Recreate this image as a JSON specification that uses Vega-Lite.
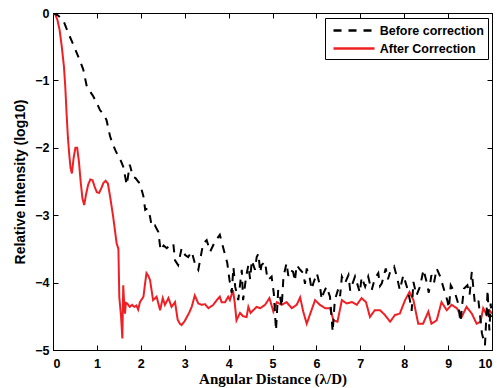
{
  "$schema": "https://vega.github.io/schema/vega-lite/v6.json",
  "autosize": "none",
  "width": 439,
  "height": 337,
  "padding": {"left": 53, "top": 13, "right": 5, "bottom": 38},
  "background": "white",
  "config": {
    "view": {"stroke": "black", "strokeWidth": 1},
    "axis": {
      "domainColor": "black", "tickColor": "black", "labelColor": "black", "titleColor": "black",
      "grid": false, "labelFont": "Liberation Sans", "labelFontWeight": "bold", "labelFontSize": 12.5,
      "tickSize": -5, "tickWidth": 1
    },
    "legend": {
      "labelFont": "Liberation Sans", "labelFontWeight": "bold", "labelFontSize": 12.5, "labelColor": "black"
    }
  },
  "data": {"values": [
    {"x":0,"y":0,"s":"After Correction"},{"x":0.05,"y":-0.02,"s":"After Correction"},{"x":0.1,"y":-0.1,"s":"After Correction"},{"x":0.15,"y":-0.25,"s":"After Correction"},{"x":0.2,"y":-0.5,"s":"After Correction"},{"x":0.25,"y":-0.8,"s":"After Correction"},{"x":0.28,"y":-1.1,"s":"After Correction"},{"x":0.31,"y":-1.5,"s":"After Correction"},{"x":0.34,"y":-1.85,"s":"After Correction"},{"x":0.37,"y":-2.1,"s":"After Correction"},{"x":0.4,"y":-2.3,"s":"After Correction"},{"x":0.43,"y":-2.38,"s":"After Correction"},{"x":0.47,"y":-2.15,"s":"After Correction"},{"x":0.51,"y":-2.0,"s":"After Correction"},{"x":0.55,"y":-2.0,"s":"After Correction"},{"x":0.59,"y":-2.2,"s":"After Correction"},{"x":0.63,"y":-2.5,"s":"After Correction"},{"x":0.67,"y":-2.75,"s":"After Correction"},{"x":0.71,"y":-2.85,"s":"After Correction"},{"x":0.75,"y":-2.7,"s":"After Correction"},{"x":0.8,"y":-2.55,"s":"After Correction"},{"x":0.85,"y":-2.47,"s":"After Correction"},{"x":0.9,"y":-2.48,"s":"After Correction"},{"x":0.95,"y":-2.58,"s":"After Correction"},{"x":1.0,"y":-2.66,"s":"After Correction"},{"x":1.05,"y":-2.67,"s":"After Correction"},{"x":1.1,"y":-2.6,"s":"After Correction"},{"x":1.15,"y":-2.52,"s":"After Correction"},{"x":1.2,"y":-2.49,"s":"After Correction"},{"x":1.25,"y":-2.53,"s":"After Correction"},{"x":1.3,"y":-2.72,"s":"After Correction"},{"x":1.37,"y":-3.02,"s":"After Correction"},{"x":1.41,"y":-3.22,"s":"After Correction"},{"x":1.45,"y":-3.42,"s":"After Correction"},{"x":1.49,"y":-3.5,"s":"After Correction"},{"x":1.51,"y":-4.21,"s":"After Correction"},{"x":1.55,"y":-4.5,"s":"After Correction"},{"x":1.58,"y":-4.83,"s":"After Correction"},{"x":1.6,"y":-4.04,"s":"After Correction"},{"x":1.62,"y":-4.3,"s":"After Correction"},{"x":1.64,"y":-4.46,"s":"After Correction"},{"x":1.66,"y":-4.3,"s":"After Correction"},{"x":1.69,"y":-4.31,"s":"After Correction"},{"x":1.75,"y":-4.36,"s":"After Correction"},{"x":1.8,"y":-4.33,"s":"After Correction"},{"x":1.85,"y":-4.36,"s":"After Correction"},{"x":1.9,"y":-4.34,"s":"After Correction"},{"x":1.94,"y":-4.4,"s":"After Correction"},{"x":1.98,"y":-4.29,"s":"After Correction"},{"x":2.06,"y":-4.21,"s":"After Correction"},{"x":2.1,"y":-4.0,"s":"After Correction"},{"x":2.13,"y":-3.86,"s":"After Correction"},{"x":2.17,"y":-3.9,"s":"After Correction"},{"x":2.21,"y":-3.96,"s":"After Correction"},{"x":2.28,"y":-4.26,"s":"After Correction"},{"x":2.36,"y":-4.21,"s":"After Correction"},{"x":2.44,"y":-4.41,"s":"After Correction"},{"x":2.5,"y":-4.23,"s":"After Correction"},{"x":2.55,"y":-4.33,"s":"After Correction"},{"x":2.63,"y":-4.23,"s":"After Correction"},{"x":2.7,"y":-4.36,"s":"After Correction"},{"x":2.78,"y":-4.29,"s":"After Correction"},{"x":2.84,"y":-4.55,"s":"After Correction"},{"x":2.89,"y":-4.61,"s":"After Correction"},{"x":2.93,"y":-4.63,"s":"After Correction"},{"x":3.0,"y":-4.57,"s":"After Correction"},{"x":3.05,"y":-4.51,"s":"After Correction"},{"x":3.1,"y":-4.45,"s":"After Correction"},{"x":3.16,"y":-4.36,"s":"After Correction"},{"x":3.23,"y":-4.19,"s":"After Correction"},{"x":3.31,"y":-4.31,"s":"After Correction"},{"x":3.39,"y":-4.33,"s":"After Correction"},{"x":3.46,"y":-4.32,"s":"After Correction"},{"x":3.54,"y":-4.38,"s":"After Correction"},{"x":3.65,"y":-4.33,"s":"After Correction"},{"x":3.73,"y":-4.26,"s":"After Correction"},{"x":3.8,"y":-4.21,"s":"After Correction"},{"x":3.84,"y":-4.29,"s":"After Correction"},{"x":3.92,"y":-4.29,"s":"After Correction"},{"x":3.99,"y":-4.21,"s":"After Correction"},{"x":4.03,"y":-4.26,"s":"After Correction"},{"x":4.1,"y":-4.11,"s":"After Correction"},{"x":4.14,"y":-4.3,"s":"After Correction"},{"x":4.18,"y":-4.56,"s":"After Correction"},{"x":4.26,"y":-4.45,"s":"After Correction"},{"x":4.33,"y":-4.5,"s":"After Correction"},{"x":4.41,"y":-4.51,"s":"After Correction"},{"x":4.45,"y":-4.36,"s":"After Correction"},{"x":4.5,"y":-4.45,"s":"After Correction"},{"x":4.56,"y":-4.41,"s":"After Correction"},{"x":4.64,"y":-4.36,"s":"After Correction"},{"x":4.72,"y":-4.38,"s":"After Correction"},{"x":4.83,"y":-4.33,"s":"After Correction"},{"x":4.93,"y":-4.23,"s":"After Correction"},{"x":5.02,"y":-4.43,"s":"After Correction"},{"x":5.1,"y":-4.29,"s":"After Correction"},{"x":5.21,"y":-4.33,"s":"After Correction"},{"x":5.32,"y":-4.29,"s":"After Correction"},{"x":5.44,"y":-4.38,"s":"After Correction"},{"x":5.55,"y":-4.33,"s":"After Correction"},{"x":5.63,"y":-4.22,"s":"After Correction"},{"x":5.7,"y":-4.43,"s":"After Correction"},{"x":5.78,"y":-4.61,"s":"After Correction"},{"x":5.85,"y":-4.48,"s":"After Correction"},{"x":5.97,"y":-4.26,"s":"After Correction"},{"x":6.08,"y":-4.33,"s":"After Correction"},{"x":6.2,"y":-4.38,"s":"After Correction"},{"x":6.31,"y":-4.38,"s":"After Correction"},{"x":6.39,"y":-4.56,"s":"After Correction"},{"x":6.48,"y":-4.58,"s":"After Correction"},{"x":6.58,"y":-4.26,"s":"After Correction"},{"x":6.69,"y":-4.31,"s":"After Correction"},{"x":6.81,"y":-4.29,"s":"After Correction"},{"x":6.92,"y":-4.33,"s":"After Correction"},{"x":7.03,"y":-4.23,"s":"After Correction"},{"x":7.13,"y":-4.29,"s":"After Correction"},{"x":7.22,"y":-4.51,"s":"After Correction"},{"x":7.33,"y":-4.41,"s":"After Correction"},{"x":7.45,"y":-4.41,"s":"After Correction"},{"x":7.56,"y":-4.48,"s":"After Correction"},{"x":7.68,"y":-4.58,"s":"After Correction"},{"x":7.79,"y":-4.48,"s":"After Correction"},{"x":7.9,"y":-4.46,"s":"After Correction"},{"x":8.02,"y":-4.26,"s":"After Correction"},{"x":8.12,"y":-4.14,"s":"After Correction"},{"x":8.21,"y":-4.26,"s":"After Correction"},{"x":8.32,"y":-4.61,"s":"After Correction"},{"x":8.43,"y":-4.61,"s":"After Correction"},{"x":8.55,"y":-4.43,"s":"After Correction"},{"x":8.62,"y":-4.61,"s":"After Correction"},{"x":8.74,"y":-4.56,"s":"After Correction"},{"x":8.85,"y":-4.29,"s":"After Correction"},{"x":8.97,"y":-4.41,"s":"After Correction"},{"x":9.08,"y":-4.33,"s":"After Correction"},{"x":9.2,"y":-4.38,"s":"After Correction"},{"x":9.31,"y":-4.51,"s":"After Correction"},{"x":9.42,"y":-4.36,"s":"After Correction"},{"x":9.54,"y":-4.46,"s":"After Correction"},{"x":9.65,"y":-4.61,"s":"After Correction"},{"x":9.74,"y":-4.58,"s":"After Correction"},{"x":9.8,"y":-4.38,"s":"After Correction"},{"x":9.88,"y":-4.48,"s":"After Correction"},{"x":9.94,"y":-4.41,"s":"After Correction"},{"x":10,"y":-4.46,"s":"After Correction"},
    {"x":0,"y":0,"s":"Before correction"},{"x":0.1,"y":-0.03,"s":"Before correction"},{"x":0.23,"y":-0.1,"s":"Before correction"},{"x":0.35,"y":-0.3,"s":"Before correction"},{"x":0.45,"y":-0.45,"s":"Before correction"},{"x":0.54,"y":-0.59,"s":"Before correction"},{"x":0.62,"y":-0.72,"s":"Before correction"},{"x":0.69,"y":-0.84,"s":"Before correction"},{"x":0.77,"y":-1.09,"s":"Before correction"},{"x":0.85,"y":-1.17,"s":"Before correction"},{"x":0.92,"y":-1.24,"s":"Before correction"},{"x":1.0,"y":-1.34,"s":"Before correction"},{"x":1.07,"y":-1.44,"s":"Before correction"},{"x":1.15,"y":-1.5,"s":"Before correction"},{"x":1.22,"y":-1.59,"s":"Before correction"},{"x":1.3,"y":-1.83,"s":"Before correction"},{"x":1.37,"y":-1.96,"s":"Before correction"},{"x":1.43,"y":-2.05,"s":"Before correction"},{"x":1.49,"y":-2.13,"s":"Before correction"},{"x":1.55,"y":-2.2,"s":"Before correction"},{"x":1.6,"y":-2.28,"s":"Before correction"},{"x":1.68,"y":-2.55,"s":"Before correction"},{"x":1.75,"y":-2.25,"s":"Before correction"},{"x":1.82,"y":-2.43,"s":"Before correction"},{"x":1.88,"y":-2.45,"s":"Before correction"},{"x":1.94,"y":-2.5,"s":"Before correction"},{"x":1.98,"y":-2.53,"s":"Before correction"},{"x":2.06,"y":-2.72,"s":"Before correction"},{"x":2.1,"y":-2.92,"s":"Before correction"},{"x":2.15,"y":-2.9,"s":"Before correction"},{"x":2.21,"y":-3.02,"s":"Before correction"},{"x":2.25,"y":-3.17,"s":"Before correction"},{"x":2.32,"y":-3.15,"s":"Before correction"},{"x":2.4,"y":-3.25,"s":"Before correction"},{"x":2.45,"y":-3.52,"s":"Before correction"},{"x":2.52,"y":-3.45,"s":"Before correction"},{"x":2.59,"y":-3.49,"s":"Before correction"},{"x":2.67,"y":-3.44,"s":"Before correction"},{"x":2.74,"y":-3.42,"s":"Before correction"},{"x":2.78,"y":-3.67,"s":"Before correction"},{"x":2.85,"y":-3.74,"s":"Before correction"},{"x":2.93,"y":-3.49,"s":"Before correction"},{"x":3.01,"y":-3.59,"s":"Before correction"},{"x":3.08,"y":-3.62,"s":"Before correction"},{"x":3.16,"y":-3.54,"s":"Before correction"},{"x":3.23,"y":-3.71,"s":"Before correction"},{"x":3.31,"y":-3.81,"s":"Before correction"},{"x":3.35,"y":-3.67,"s":"Before correction"},{"x":3.42,"y":-3.42,"s":"Before correction"},{"x":3.5,"y":-3.37,"s":"Before correction"},{"x":3.58,"y":-3.54,"s":"Before correction"},{"x":3.69,"y":-3.39,"s":"Before correction"},{"x":3.8,"y":-3.29,"s":"Before correction"},{"x":3.88,"y":-3.49,"s":"Before correction"},{"x":3.97,"y":-3.71,"s":"Before correction"},{"x":4.02,"y":-3.96,"s":"Before correction"},{"x":4.07,"y":-4.15,"s":"Before correction"},{"x":4.11,"y":-3.77,"s":"Before correction"},{"x":4.15,"y":-4.06,"s":"Before correction"},{"x":4.22,"y":-4.26,"s":"Before correction"},{"x":4.3,"y":-3.81,"s":"Before correction"},{"x":4.33,"y":-4.26,"s":"Before correction"},{"x":4.4,"y":-3.91,"s":"Before correction"},{"x":4.45,"y":-3.74,"s":"Before correction"},{"x":4.49,"y":-3.95,"s":"Before correction"},{"x":4.53,"y":-3.67,"s":"Before correction"},{"x":4.6,"y":-3.81,"s":"Before correction"},{"x":4.64,"y":-3.62,"s":"Before correction"},{"x":4.68,"y":-3.57,"s":"Before correction"},{"x":4.72,"y":-3.85,"s":"Before correction"},{"x":4.75,"y":-3.74,"s":"Before correction"},{"x":4.83,"y":-3.69,"s":"Before correction"},{"x":4.87,"y":-3.88,"s":"Before correction"},{"x":4.9,"y":-3.96,"s":"Before correction"},{"x":4.98,"y":-3.91,"s":"Before correction"},{"x":5.03,"y":-4.16,"s":"Before correction"},{"x":5.08,"y":-4.71,"s":"Before correction"},{"x":5.13,"y":-4.11,"s":"Before correction"},{"x":5.17,"y":-4.2,"s":"Before correction"},{"x":5.21,"y":-4.36,"s":"Before correction"},{"x":5.25,"y":-3.91,"s":"Before correction"},{"x":5.32,"y":-3.71,"s":"Before correction"},{"x":5.36,"y":-3.9,"s":"Before correction"},{"x":5.4,"y":-3.81,"s":"Before correction"},{"x":5.47,"y":-3.84,"s":"Before correction"},{"x":5.51,"y":-3.98,"s":"Before correction"},{"x":5.55,"y":-3.74,"s":"Before correction"},{"x":5.63,"y":-3.81,"s":"Before correction"},{"x":5.7,"y":-3.86,"s":"Before correction"},{"x":5.74,"y":-4.02,"s":"Before correction"},{"x":5.78,"y":-3.79,"s":"Before correction"},{"x":5.85,"y":-3.94,"s":"Before correction"},{"x":5.89,"y":-4.1,"s":"Before correction"},{"x":5.93,"y":-4.01,"s":"Before correction"},{"x":6.01,"y":-3.86,"s":"Before correction"},{"x":6.08,"y":-4.04,"s":"Before correction"},{"x":6.12,"y":-4.25,"s":"Before correction"},{"x":6.16,"y":-4.16,"s":"Before correction"},{"x":6.23,"y":-4.06,"s":"Before correction"},{"x":6.31,"y":-4.21,"s":"Before correction"},{"x":6.37,"y":-4.73,"s":"Before correction"},{"x":6.42,"y":-4.26,"s":"Before correction"},{"x":6.5,"y":-4.09,"s":"Before correction"},{"x":6.54,"y":-4.2,"s":"Before correction"},{"x":6.58,"y":-3.91,"s":"Before correction"},{"x":6.65,"y":-4.01,"s":"Before correction"},{"x":6.73,"y":-3.89,"s":"Before correction"},{"x":6.77,"y":-4.12,"s":"Before correction"},{"x":6.81,"y":-4.04,"s":"Before correction"},{"x":6.88,"y":-3.91,"s":"Before correction"},{"x":6.95,"y":-4.06,"s":"Before correction"},{"x":6.99,"y":-4.15,"s":"Before correction"},{"x":7.03,"y":-3.92,"s":"Before correction"},{"x":7.11,"y":-4.06,"s":"Before correction"},{"x":7.18,"y":-3.91,"s":"Before correction"},{"x":7.22,"y":-4.02,"s":"Before correction"},{"x":7.26,"y":-4.11,"s":"Before correction"},{"x":7.33,"y":-3.94,"s":"Before correction"},{"x":7.41,"y":-3.86,"s":"Before correction"},{"x":7.45,"y":-4.05,"s":"Before correction"},{"x":7.49,"y":-4.01,"s":"Before correction"},{"x":7.58,"y":-3.79,"s":"Before correction"},{"x":7.63,"y":-3.95,"s":"Before correction"},{"x":7.68,"y":-3.84,"s":"Before correction"},{"x":7.77,"y":-3.76,"s":"Before correction"},{"x":7.85,"y":-3.96,"s":"Before correction"},{"x":7.9,"y":-4.11,"s":"Before correction"},{"x":7.98,"y":-3.89,"s":"Before correction"},{"x":8.06,"y":-4.06,"s":"Before correction"},{"x":8.13,"y":-4.26,"s":"Before correction"},{"x":8.17,"y":-4.42,"s":"Before correction"},{"x":8.21,"y":-3.99,"s":"Before correction"},{"x":8.28,"y":-4.19,"s":"Before correction"},{"x":8.36,"y":-4.06,"s":"Before correction"},{"x":8.44,"y":-3.81,"s":"Before correction"},{"x":8.51,"y":-3.99,"s":"Before correction"},{"x":8.56,"y":-4.15,"s":"Before correction"},{"x":8.62,"y":-3.89,"s":"Before correction"},{"x":8.68,"y":-4.0,"s":"Before correction"},{"x":8.74,"y":-3.79,"s":"Before correction"},{"x":8.82,"y":-3.91,"s":"Before correction"},{"x":8.91,"y":-4.11,"s":"Before correction"},{"x":8.98,"y":-4.26,"s":"Before correction"},{"x":9.02,"y":-4.38,"s":"Before correction"},{"x":9.06,"y":-4.04,"s":"Before correction"},{"x":9.16,"y":-4.16,"s":"Before correction"},{"x":9.23,"y":-4.31,"s":"Before correction"},{"x":9.28,"y":-4.58,"s":"Before correction"},{"x":9.36,"y":-4.09,"s":"Before correction"},{"x":9.44,"y":-4.04,"s":"Before correction"},{"x":9.49,"y":-4.18,"s":"Before correction"},{"x":9.54,"y":-3.84,"s":"Before correction"},{"x":9.61,"y":-4.31,"s":"Before correction"},{"x":9.69,"y":-4.26,"s":"Before correction"},{"x":9.77,"y":-4.75,"s":"Before correction"},{"x":9.84,"y":-4.93,"s":"Before correction"},{"x":9.9,"y":-4.11,"s":"Before correction"},{"x":9.94,"y":-4.71,"s":"Before correction"},{"x":9.97,"y":-4.31,"s":"Before correction"},{"x":10,"y":-4.51,"s":"Before correction"}
  ]},
  "layer": [
    {
      "mark": {"type": "line", "strokeWidth": 2, "clip": true},
      "encoding": {
        "x": {"field": "x", "type": "quantitative", "scale": {"domain": [0, 10], "nice": false},
          "axis": {"orient": "bottom", "values": [0,1,2,3,4,5,6,7,8,9,10], "title": "Angular Distance (λ/D)",
            "titleFont": "Liberation Serif", "titleFontWeight": "bold", "titleFontSize": 15, "titlePadding": 2, "labelPadding": 12}},
        "y": {"field": "y", "type": "quantitative", "scale": {"domain": [-5, 0], "nice": false},
          "axis": {"orient": "left", "values": [-5,-4,-3,-2,-1,0], "title": "Relative Intensity (log10)",
            "titleFont": "Liberation Sans", "titleFontWeight": "bold", "titleFontSize": 14, "titlePadding": 7, "labelPadding": 9}},
        "color": {"field": "s", "type": "nominal", "title": null,
          "scale": {"domain": ["Before correction", "After Correction"], "range": ["black", "#ee2025"]},
          "legend": {"orient": "none", "legendX": 272, "legendY": 5, "strokeColor": "black", "fillColor": "white",
            "padding": 4, "symbolType": "M-0.571,0H5.29", "symbolSize": 196, "symbolStrokeWidth": 2.5, "rowPadding": 3, "labelOffset": 33.7}},
        "strokeDash": {"field": "s", "type": "nominal", "title": null,
          "scale": {"domain": ["Before correction", "After Correction"], "range": [[8, 7], [1, 0]]}}
      }
    },
    {
      "mark": {"type": "line", "opacity": 0},
      "encoding": {
        "x": {"field": "x", "type": "quantitative", "axis": {"orient": "top", "values": [0,1,2,3,4,5,6,7,8,9,10], "labels": false, "title": null}},
        "y": {"field": "y", "type": "quantitative", "axis": {"orient": "right", "values": [-5,-4,-3,-2,-1,0], "labels": false, "title": null}}
      }
    }
  ],
  "resolve": {"axis": {"x": "independent", "y": "independent"}}
}
